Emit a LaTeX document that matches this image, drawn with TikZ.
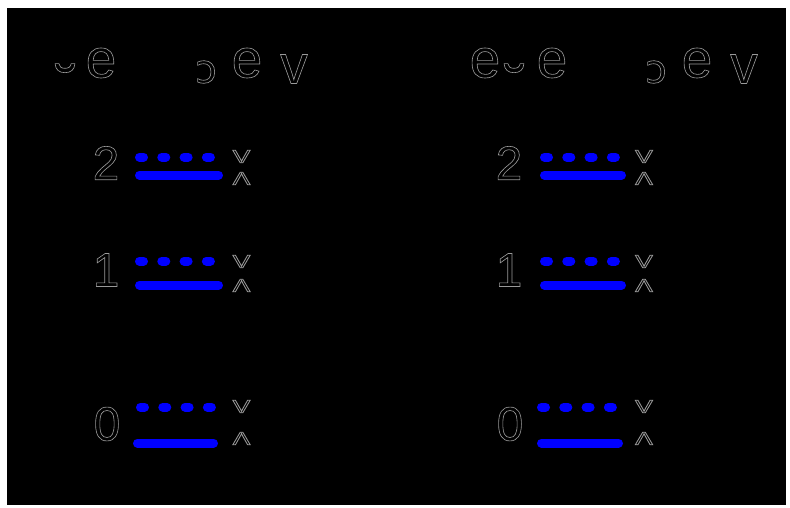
\documentclass[tikz,border=0pt]{standalone}
\usepackage{fontspec}
\setmainfont{Liberation Sans}
\newfontfamily\symfont{DejaVu Sans}
\usetikzlibrary{positioning}

% hollow glyphs: stroke the outline only
\newcommand{\hollow}[1]{\special{pdf:literal direct q 1 Tr 0.45 w}#1\special{pdf:literal direct Q}}

\begin{document}
\begin{tikzpicture}[x=0.025cm, y=-0.025cm,
    big/.style={text=gray!80, inner sep=0pt, font=\fontsize{34}{38}\selectfont},
    letter/.style={text=gray!80, inner sep=0pt, font=\fontsize{39}{42}\selectfont},
    tiny/.style={text=gray!80, inner sep=0pt, font=\symfont\fontsize{28}{30}\selectfont},
    cup/.style={text=gray!80, inner sep=0pt, font=\symfont\fontsize{46}{48}\selectfont},
    spin/.style={text=gray!80, inner sep=0pt, font=\fontsize{13}{14}\selectfont},
    pill/.style={blue, line width=6.4pt, line cap=round}]
    \useasboundingbox (0,0) rectangle (790,507);
    \fill [black] (7,8) rectangle (786,505);

    % titles
    \node [cup]    (lcup) at (65,89) {\hollow{˘}};
    \node [letter] (le1)  at (101,63) {\hollow{e}};
    \node [tiny]   (lhk)  at (206,72) {\hollow{ɔ}};
    \node [letter] (le2)  at (247,63) {\hollow{e}};
    \node [letter] (lv)   at (294,69) {\hollow{v}};
    \node [letter] (re1)  at (485,63) {\hollow{e}};
    \node [cup]    (rcup) at (514,89) {\hollow{˘}};
    \node [letter] (re2)  at (552,63) {\hollow{e}};
    \node [tiny]   (rhk)  at (656,72) {\hollow{ɔ}};
    \node [letter] (re3)  at (697,63) {\hollow{e}};
    \node [letter] (rv)   at (744,69) {\hollow{v}};

    % level numbers
    \node [big] (ltwo)  at (106,163) {\hollow{2}};
    \node [big] (lone)  at (106,270) {\hollow{1}};
    \node [big] (lzero) at (107,424) {\hollow{0}};
    \node [big] (rtwo)  at (509,163) {\hollow{2}};
    \node [big] (rone)  at (509,270) {\hollow{1}};
    \node [big] (rzero) at (510,424) {\hollow{0}};

    % spins
    \foreach \n/\x in {l/241.5, r/644} {
        \node [spin] (\n dtwo)  at (\x,156.5) {\scalebox{1.45}[1]{\hollow{V}}};
        \node [spin] (\n utwo)  at (\x,178.5) {\scalebox{1.45}[1]{\hollow{Λ}}};
        \node [spin] (\n done)  at (\x,261.5) {\scalebox{1.45}[1]{\hollow{V}}};
        \node [spin] (\n uone)  at (\x,285.5) {\scalebox{1.45}[1]{\hollow{Λ}}};
        \node [spin] (\n dzero) at (\x,406.5) {\scalebox{1.45}[1]{\hollow{V}}};
        \node [spin] (\n uzero) at (\x,438.5) {\scalebox{1.45}[1]{\hollow{Λ}}};
    }

    % dotted levels
    \foreach \x/\y in {135/157, 135/261, 136/407, 540/157, 540/261, 537/407}
        \foreach \i in {0,...,3}
            \draw [pill] (\x+4.5+22.3*\i,\y) -- +(4,0);

    % full levels
    \draw [pill] (139.5,175) -- (218.5,175);
    \draw [pill] (139.5,285) -- (218.5,285);
    \draw [pill] (137.5,443) -- (213.5,443);
    \draw [pill] (544.5,175) -- (621.5,175);
    \draw [pill] (544.5,285) -- (621.5,285);
    \draw [pill] (541.5,443) -- (618.5,443);
\end{tikzpicture}
\end{document}
